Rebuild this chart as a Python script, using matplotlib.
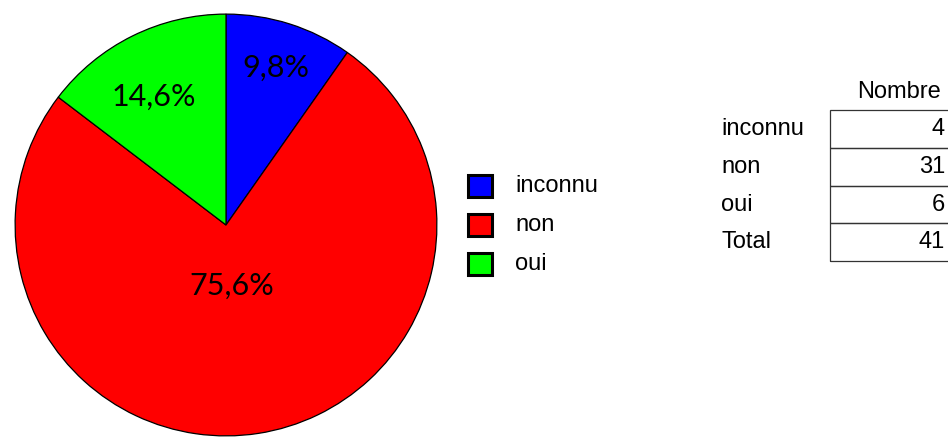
import numpy as np
import matplotlib.pyplot as plt
from matplotlib.patches import Rectangle

# counts per answer
categories = ['inconnu', 'non', 'oui']
counts = [4, 31, 6]
colors = ['#0000ff', '#ff0000', '#00ff00']
pct_labels = ['9,8%', '75,6%', '14,6%']
header = 'Nombre'

W, H = 948, 440
fig = plt.figure(figsize=(W / 100, H / 100), dpi=100)

# pie area
ax = fig.add_axes([12 / W, 2 / H, 428 / W, 426 / H])
wedges, _ = ax.pie(counts, colors=colors, startangle=90, counterclock=False,
                   wedgeprops=dict(edgecolor='black', linewidth=0.9))
ax.set_xlim(-1.01, 1.01)
ax.set_ylim(-1.01, 1.01)
ax.set_aspect('equal')
ax.axis('off')

# percentage labels inside each slice
label_r = [0.78, 0.29, 0.70]
label_shift = [0, -3, 3]
for w, txt, r, s in zip(wedges, pct_labels, label_r, label_shift):
    mid = np.deg2rad((w.theta1 + w.theta2) / 2 + s)
    ax.text(r * np.cos(mid), r * np.sin(mid), txt, ha='center', va='center',
            fontsize=22, family='Lato', color='black')

# legend
lx, ly0, step = 468 / W, 1 - 186 / H, 39 / H
sq_w, sq_h = 24 / W, 22 / H
for i, (cat, c) in enumerate(zip(categories, colors)):
    y = ly0 - i * step
    fig.patches.append(Rectangle((lx, y - sq_h / 2), sq_w, sq_h, facecolor=c,
                                 edgecolor='black', linewidth=2.2,
                                 transform=fig.transFigure))
    fig.text(515 / W, y, cat, ha='left', va='center', fontsize=17,
             family='Liberation Sans')

# count table
rows = categories + ['Total']
values = counts + [sum(counts)]
tx0, tx1 = 830 / W, 1.02
row_top = 1 - 110 / H
row_h = 37.8 / H
fig.text(941 / W, 1 - 92 / H, header, ha='right', va='center', fontsize=17,
         family='Liberation Sans')
for i, (name, v) in enumerate(zip(rows, values)):
    top = row_top - i * row_h
    fig.patches.append(Rectangle((tx0, top - row_h), tx1 - tx0, row_h,
                                 facecolor='none', edgecolor='#333333',
                                 linewidth=0.9, transform=fig.transFigure))
    yc = top - row_h / 2
    fig.text(721 / W, yc, name, ha='left', va='center', fontsize=17,
             family='Liberation Sans')
    fig.text(945 / W, yc, str(v), ha='right', va='center', fontsize=17,
             family='Liberation Sans')

fig.savefig('out.png', dpi=100)
